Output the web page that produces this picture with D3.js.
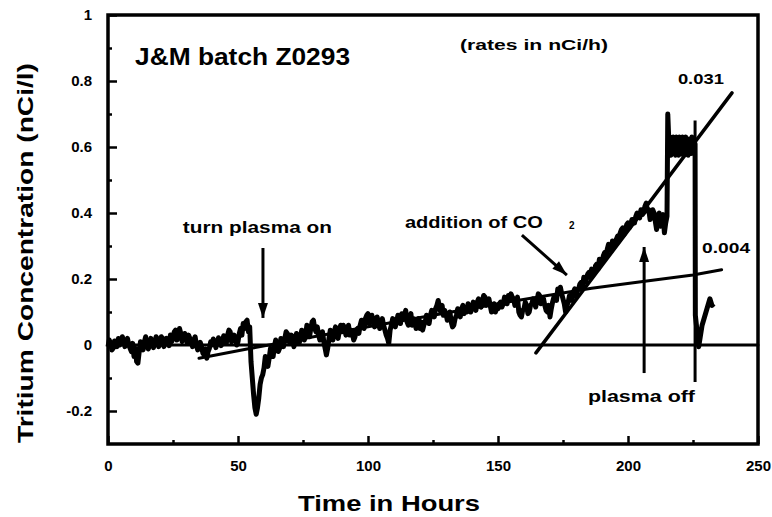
<!DOCTYPE html>
<html><head><meta charset="utf-8">
<script src="https://cdn.jsdelivr.net/npm/d3@7"></script>
<style>
body{margin:0;background:#fff}
text{font-family:"Liberation Sans",Arial,sans-serif;font-weight:bold;fill:#000}
</style>
</head><body>
<svg id="chart" width="772" height="517"></svg>
<script>
// ---------- data ----------
const xTicks = [0, 50, 100, 150, 200, 250];
const xMinorTicks = [25, 75, 125, 175, 225];
const yTicks = [-0.2, 0, 0.2, 0.4, 0.6, 0.8, 1];
const yTickLabels = ["-0.2", "0", "0.2", "0.4", "0.6", "0.8", "1"];
const yMinorTicks = [-0.1, 0.1, 0.3, 0.5, 0.7, 0.9];

// tritium concentration read on the hour (index = hour 0..215)
const hourlyTritium = [
 -0.005,0.005,-0.01,0.01,0.02,0.01,0.015,0.005,0.0,-0.02,
 -0.035,-0.05,-0.02,0.0,0.01,0.005,0.0,0.01,0.005,0.015,
 0.01,0.02,0.005,0.015,0.03,0.02,0.045,0.03,0.035,0.02,
 0.025,0.03,0.01,0.015,0.0,-0.01,-0.005,-0.03,-0.04,-0.01,
 0.0,0.01,0.005,0.015,0.01,0.02,0.03,0.04,0.015,0.02,
 0.01,0.05,0.065,0.07,0.04,-0.05,-0.15,-0.21,-0.16,-0.1,
 -0.07,-0.05,-0.04,-0.02,-0.005,0.005,-0.01,0.015,0.02,0.035,
 0.01,0.025,0.01,0.03,0.02,0.04,0.03,0.045,0.05,0.075,
 0.04,0.03,0.02,0.01,-0.03,0.02,0.03,0.04,0.035,0.045,
 0.04,0.05,0.045,0.03,0.035,0.025,0.05,0.06,0.07,0.08,
 0.095,0.07,0.075,0.06,0.07,0.065,0.06,0.03,0.005,0.06,
 0.075,0.07,0.08,0.095,0.09,0.07,0.08,0.06,0.075,0.06,
 0.05,0.045,0.07,0.08,0.09,0.1,0.11,0.135,0.1,0.09,
 0.095,0.08,0.07,0.06,0.09,0.1,0.11,0.095,0.1,0.115,
 0.11,0.12,0.13,0.125,0.135,0.145,0.13,0.12,0.11,0.1,
 0.11,0.13,0.125,0.14,0.15,0.155,0.14,0.13,0.1,0.085,
 0.11,0.12,0.1,0.125,0.13,0.135,0.15,0.13,0.12,0.1,
 0.085,0.13,0.15,0.17,0.175,0.14,0.1,0.13,0.15,0.16,
 0.15,0.17,0.19,0.205,0.2,0.22,0.23,0.22,0.245,0.26,
 0.25,0.28,0.29,0.3,0.315,0.3,0.33,0.34,0.355,0.35,
 0.37,0.365,0.38,0.39,0.395,0.41,0.4,0.43,0.41,0.39,
 0.4,0.35,0.4,0.38,0.34,0.39
];
// readings at the half hour (index i = hour i + 0.5, for 0..214)
const halfHourTritium = [
 0.015,-0.015,0.012,-0.005,0.0,0.025,-0.005,0.02,-0.01,0.005,
 -0.01,-0.055,0.01,-0.015,0.025,-0.012,0.02,-0.008,0.025,-0.005,
 0.025,-0.005,0.02,-0.002,0.01,0.04,0.015,0.05,0.01,0.035,
 0.005,0.02,-0.005,0.025,-0.015,0.008,-0.025,-0.012,-0.02,0.01,
 0.018,-0.008,0.022,-0.002,0.028,0.005,0.045,0.01,0.03,0.0,
 0.035,0.03,0.05,0.075,0.055,-0.1,-0.19,-0.19,-0.12,-0.09,
 -0.035,-0.065,-0.01,-0.035,0.015,-0.02,0.02,-0.005,0.04,0.01,
 0.03,-0.005,0.035,0.005,0.045,0.015,0.06,0.025,0.07,0.05,
 0.055,0.015,0.04,-0.01,-0.01,0.045,0.015,0.055,0.02,0.06,
 0.06,0.03,0.06,0.045,0.015,0.045,0.035,0.075,0.05,0.09,
 0.065,0.09,0.055,0.085,0.05,0.08,0.045,0.02,0.045,0.08,
 0.055,0.09,0.065,0.08,0.105,0.06,0.095,0.08,0.05,0.08,
 0.07,0.06,0.09,0.065,0.105,0.085,0.12,0.11,0.12,0.105,
 0.075,0.1,0.055,0.08,0.11,0.085,0.12,0.11,0.125,0.1,
 0.13,0.105,0.14,0.115,0.15,0.12,0.14,0.1,0.125,0.115,
 0.125,0.115,0.145,0.125,0.135,0.145,0.12,0.145,0.09,0.105,
 0.13,0.095,0.12,0.14,0.115,0.155,0.125,0.14,0.105,0.12,
 0.11,0.145,0.135,0.16,0.155,0.125,0.12,0.15,0.135,0.17,
 0.165,0.185,0.175,0.19,0.215,0.205,0.215,0.24,0.23,0.255,
 0.27,0.265,0.305,0.285,0.3,0.32,0.315,0.35,0.335,0.365,
 0.355,0.38,0.37,0.4,0.385,0.395,0.42,0.405,0.38,0.41,
 0.375,0.39,0.36,0.395,0.37
];
// readings after the first plasma-off (irregular times)
const tailHours = [215.3,215.6,215.9,216.2,216.5,216.8,217.1,217.4,217.7,218.0,218.3,218.6,218.9,219.2,219.5,219.8,220.1,220.4,220.7,221.0,221.3,221.6,221.9,222.2,222.5,222.8,223.1,223.4,223.7,224.0,224.3,224.6,224.9,225.2,225.5,225.8,225.9,227.2,228.5,230,231.5,232.3,233];
const tailValues = [0.70,0.64,0.58,0.63,0.575,0.625,0.58,0.63,0.585,0.62,0.575,0.63,0.58,0.62,0.575,0.63,0.585,0.625,0.58,0.63,0.575,0.62,0.585,0.63,0.58,0.625,0.575,0.62,0.59,0.625,0.58,0.63,0.585,0.62,0.59,0.61,0.09,-0.005,0.06,0.10,0.14,0.12,0.125];

// fitted lines
const zeroHours = [0, 250];
const zeroValues = [0, 0];
const slowFitHours = [35, 55, 100, 150, 186, 205, 225, 236];
const slowFitValues = [-0.04, -0.01, 0.055, 0.125, 0.172, 0.192, 0.212, 0.228];
const fastFitHours = [164.6, 240];
const fastFitValues = [-0.024, 0.764];

// ---------- layout ----------
const svg = d3.select("#chart");
const L = 108, R = 758, T = 15, B = 444;
const x = d3.scaleLinear().domain([0, 250]).range([L, R]);
const y = d3.scaleLinear().domain([-0.3, 1]).range([B, T]);

// axes
const gx = svg.append("g").attr("transform", `translate(0,${B})`)
  .call(d3.axisBottom(x).tickValues(xTicks).tickSize(-8).tickPadding(16).tickFormat(d3.format("d")));
const gxm = svg.append("g").attr("transform", `translate(0,${B})`)
  .call(d3.axisBottom(x).tickValues(xMinorTicks).tickSize(-4).tickFormat(""));
const gy = svg.append("g").attr("transform", `translate(${L},0)`)
  .call(d3.axisLeft(y).tickValues(yTicks).tickSize(-9).tickPadding(16).tickFormat((d, i) => yTickLabels[i]));
const gym = svg.append("g").attr("transform", `translate(${L},0)`)
  .call(d3.axisLeft(y).tickValues(yMinorTicks).tickSize(-4).tickFormat(""));
[gx, gxm, gy, gym].forEach(g => {
  g.select(".domain").remove();
  g.selectAll(".tick line").attr("stroke", "#000").attr("stroke-width", 2.5);
  g.selectAll("text").attr("font-size", 15).attr("font-family", "Liberation Sans, Arial").attr("font-weight", "bold").attr("fill", "#000");
});

// frame
svg.append("rect").attr("x", L).attr("y", T).attr("width", R - L).attr("height", B - T)
  .attr("fill", "none").attr("stroke", "#000").attr("stroke-width", 3.5);

const line = d3.line().x(d => x(d[0])).y(d => y(d[1]));

// zero line and fits
const drawLine = (hs, vs, w) => svg.append("path")
  .attr("d", line(hs.map((h, i) => [h, vs[i]])))
  .attr("fill", "none").attr("stroke", "#000").attr("stroke-width", w)
  .attr("stroke-linejoin", "round").attr("stroke-linecap", "round");
drawLine(zeroHours, zeroValues, 3);
drawLine(slowFitHours, slowFitValues, 3);
drawLine(fastFitHours, fastFitValues, 3.5);

// data
const dataPts = [];
hourlyTritium.forEach((v, i) => {
  dataPts.push([i, v]);
  if (i < halfHourTritium.length) dataPts.push([i + 0.5, halfHourTritium[i]]);
});
tailHours.forEach((h, i) => dataPts.push([h, tailValues[i]]));
svg.append("path").attr("d", line(dataPts))
  .attr("fill", "none").attr("stroke", "#000").attr("stroke-width", 5)
  .attr("stroke-linejoin", "round");

// ---------- annotations (data coordinates) ----------
function label(txt, h, v, size, len) {
  const t = svg.append("text").attr("x", x(h)).attr("y", y(v)).attr("font-size", size).text(txt);
  if (len) t.attr("textLength", len).attr("lengthAdjust", "spacingAndGlyphs");
  return t;
}
label("J&M batch Z0293", 10.4, 0.848, 23, 215);
label("(rates in nCi/h)", 135.4, 0.894, 15, 148);
label("0.031", 219.2, 0.791, 15, 46);
label("0.004", 228.5, 0.279, 15, 48);
label("turn plasma on", 28.8, 0.339, 16, 149);
label("addition of CO", 114.2, 0.355, 16, 138);
label("2", 177.3, 0.352, 10);
label("plasma off", 184.6, -0.173, 16, 107);

function arrow(h0, v0, h1, v1, head) {
  const x0 = x(h0), y0 = y(v0), x1 = x(h1), y1 = y(v1);
  svg.append("line").attr("x1", x0).attr("y1", y0).attr("x2", x1).attr("y2", y1)
    .attr("stroke", "#000").attr("stroke-width", 3);
  if (head) {
    const a = Math.atan2(y1 - y0, x1 - x0), len = 15, wd = 5;
    const bx = x1 - len * Math.cos(a), by = y1 - len * Math.sin(a);
    const px = -Math.sin(a) * wd, py = Math.cos(a) * wd;
    svg.append("path").attr("d", `M${x1},${y1}L${bx + px},${by + py}L${bx - px},${by - py}Z`).attr("fill", "#000");
  }
}
arrow(59.6, 0.294, 59.6, 0.082, true);     // turn plasma on
arrow(159.2, 0.333, 176.5, 0.212, true);   // addition of CO2
arrow(206.2, -0.085, 206.2, 0.297, true);  // plasma off
arrow(225.8, -0.112, 225.8, 0.68, false);  // plasma off (second)

// axis titles
svg.append("text").attr("x", 389).attr("y", 511).attr("text-anchor", "middle")
  .attr("font-size", 22).attr("textLength", 182).attr("lengthAdjust", "spacingAndGlyphs").text("Time in Hours");
svg.append("text").attr("transform", `translate(33,${(63 + 443) / 2}) rotate(-90)`).attr("text-anchor", "middle")
  .attr("font-size", 22).attr("textLength", 380).attr("lengthAdjust", "spacingAndGlyphs").text("Tritium Concentration (nCi/l)");
</script>
</body></html>
